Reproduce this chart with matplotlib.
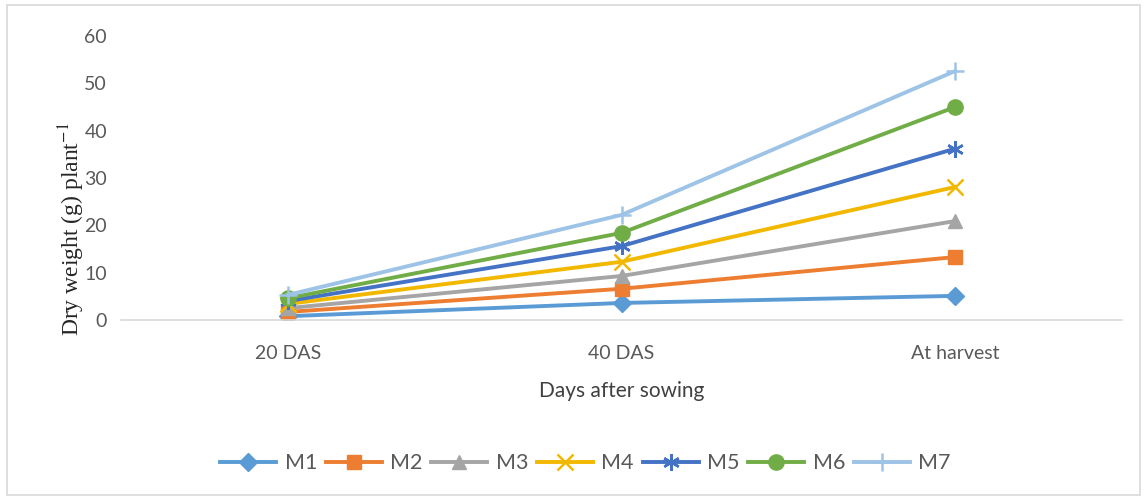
import matplotlib
matplotlib.use('Agg')
import matplotlib.pyplot as plt
from matplotlib.patches import Rectangle

# Dry weight per plant at each growth stage
stages = ['20 DAS', '40 DAS', 'At harvest']
series = ['M1', 'M2', 'M3', 'M4', 'M5', 'M6', 'M7']
m1 = [0.8, 3.6, 5.1]
m2 = [1.7, 6.6, 13.3]
m3 = [2.5, 9.3, 20.9]
m4 = [3.4, 12.3, 28.1]
m5 = [4.0, 15.6, 36.2]
m6 = [4.6, 18.4, 45.0]
m7 = [5.3, 22.2, 52.6]
values = [m1, m2, m3, m4, m5, m6, m7]

colors = ['#5B9BD5', '#ED7D31', '#A5A5A5', '#F2B800', '#4472C4', '#70AD47', '#9DC3E6']
markers = ['D', 's', '^', 'x', (6, 2, 0), 'o', '+']
sizes = [9, 10, 10, 11, 12, 11, 13]

plt.rcParams['font.family'] = ['Lato', 'DejaVu Sans']
plt.rcParams['mathtext.fontset'] = 'stix'

fig = plt.figure(figsize=(11.48, 4.99), dpi=100)
ax = fig.add_axes([121 / 1148, 1 - 320 / 499, 1001 / 1148, 284 / 499])

x = list(range(len(stages)))
for name, vals, c, m, s in zip(series, values, colors, markers, sizes):
    ax.plot(x, vals, color=c, lw=2.8, marker=m, markersize=s,
            markeredgewidth=1.8 if m in ('x', '+') or isinstance(m, tuple) else 1,
            markeredgecolor=c, markerfacecolor=c, label=name)

ax.set_xlim(-0.5, 2.5)
ax.set_ylim(0, 60)
ax.set_yticks(range(0, 61, 10))
ax.set_xticks(x)
ax.set_xticklabels(stages)
ax.tick_params(axis='both', length=0, labelsize=14, colors='#595959')
ax.tick_params(axis='x', pad=18)
ax.tick_params(axis='y', pad=10)

for side in ['top', 'right', 'left']:
    ax.spines[side].set_visible(False)
ax.spines['bottom'].set_color('#D9D9D9')
ax.spines['bottom'].set_linewidth(1.2)

ax.set_xlabel('Days after sowing', fontsize=15, color='#404040', labelpad=14)
ax.set_ylabel('Dry weight (g) plant$^{-1}$', fontsize=17, color='#262626',
              family='Liberation Serif')
ax.yaxis.set_label_coords(-0.034, 0.32)

fig.legend(loc='center', bbox_to_anchor=(0.51, 0.072), ncol=7, frameon=False,
           fontsize=15.5, handlelength=2.6, columnspacing=0.4, handletextpad=0.4,
           labelcolor='#595959')

fig.patches.append(Rectangle((7 / 1148, 4 / 499), 1133 / 1148, 490 / 499,
                             transform=fig.transFigure, fill=False,
                             edgecolor='#D9D9D9', lw=1.2))

fig.savefig('out.png', dpi=100)
